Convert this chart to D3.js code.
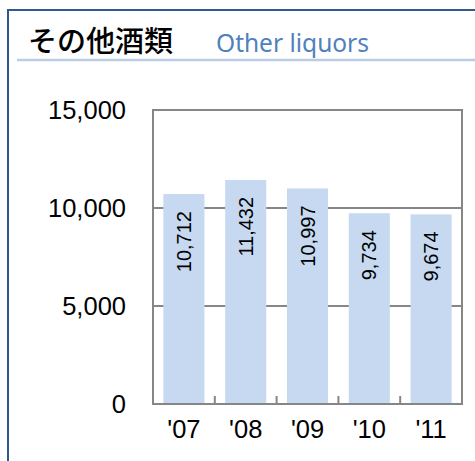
<!DOCTYPE html>
<html>
<head>
<meta charset="utf-8">
<script src="https://cdn.jsdelivr.net/npm/d3@7"></script>
<style>
  body { margin: 0; background: #fff; }
  svg { display: block; font-family: "Liberation Sans", Arial, sans-serif; }
</style>
</head>
<body>
<div id="chart"></div>
<script>
'use strict';

var years = ["'07", "'08", "'09", "'10", "'11"];
var values = [10712, 11432, 10997, 9734, 9674];
var yTicks = [0, 5000, 10000, 15000];

var width = 475, height = 461;
var plot = { left: 153, right: 462, top: 110, bottom: 404 };

let svg = d3.select("#chart").append("svg")
    .attr("width", width)
    .attr("height", height);

// outer frame + title
svg.append("rect")
    .attr("x", 8).attr("y", 10)
    .attr("width", 480).attr("height", 470)
    .attr("fill", "none")
    .attr("stroke", "#2e5a8c")
    .attr("stroke-width", 2);

svg.append("line")
    .attr("x1", 17).attr("x2", 475)
    .attr("y1", 60).attr("y2", 60)
    .attr("stroke", "#b9cde5")
    .attr("stroke-width", 2.5);

svg.append("text")
    .attr("x", 28).attr("y", 52)
    .style("font-family", "'Noto Sans CJK JP', sans-serif")
    .style("font-size", "29px")
    .style("font-weight", 500)
    .attr("fill", "#000")
    .text("その他酒類");

svg.append("text")
    .attr("x", 216).attr("y", 52)
    .style("font-family", "'Noto Sans', sans-serif")
    .style("font-size", "24.5px")
    .attr("fill", "#4f81bd")
    .text("Other liquors");

var x = d3.scaleBand()
    .domain(years)
    .range([plot.left, plot.right])
    .paddingInner(0.335)
    .paddingOuter(0.1675);

var y = d3.scaleLinear()
    .domain([0, 15000])
    .range([plot.bottom, plot.top]);

// gridlines
svg.append("g")
    .selectAll("line")
    .data(yTicks.filter(d => d > 0 && d < 15000))
    .join("line")
    .attr("x1", plot.left).attr("x2", plot.right)
    .attr("y1", d => y(d)).attr("y2", d => y(d))
    .attr("stroke", "#868686")
    .attr("stroke-width", 2);

// bars
svg.append("g")
    .selectAll("rect")
    .data(values)
    .join("rect")
    .attr("x", (d, i) => x(years[i]))
    .attr("y", d => y(d))
    .attr("width", x.bandwidth())
    .attr("height", d => y(0) - y(d))
    .attr("fill", "#c6d9f1");

// labels inside bars
svg.append("g")
    .selectAll("text")
    .data(values)
    .join("text")
    .attr("transform", (d, i) => "translate(" + (x(years[i]) + x.bandwidth() / 2) + "," + (y(d) + 17) + ") rotate(-90)")
    .attr("text-anchor", "end")
    .attr("dominant-baseline", "central")
    .style("font-size", "20px")
    .attr("fill", "#000")
    .text(d => d3.format(",")(d));

// plot border
svg.append("rect")
    .attr("x", plot.left).attr("y", plot.top)
    .attr("width", plot.right - plot.left)
    .attr("height", plot.bottom - plot.top)
    .attr("fill", "none")
    .attr("stroke", "#868686")
    .attr("stroke-width", 2);

// small ticks between categories
var step = x.step();
svg.append("g")
    .selectAll("line")
    .data(years.slice(1))
    .join("line")
    .attr("x1", d => x(d) - step * x.paddingInner() / 2)
    .attr("x2", d => x(d) - step * x.paddingInner() / 2)
    .attr("y1", plot.bottom - 8).attr("y2", plot.bottom)
    .attr("stroke", "#868686")
    .attr("stroke-width", 2);

// axes
var yAxis = svg.append("g")
    .attr("transform", "translate(" + plot.left + ",0)")
    .call(d3.axisLeft(y).tickValues(yTicks).tickFormat(d3.format(",")).tickSize(0).tickPadding(27));
yAxis.select(".domain").remove();
yAxis.selectAll("text").style("font-size", "25.5px").attr("fill", "#000").style("font-family", "'Liberation Sans', sans-serif");

var xAxis = svg.append("g")
    .attr("transform", "translate(0," + plot.bottom + ")")
    .call(d3.axisBottom(x).tickSize(0).tickPadding(16));
xAxis.select(".domain").remove();
xAxis.selectAll("text").style("font-size", "25.5px").attr("fill", "#000").style("font-family", "'Liberation Sans', sans-serif");
</script>
</body>
</html>
